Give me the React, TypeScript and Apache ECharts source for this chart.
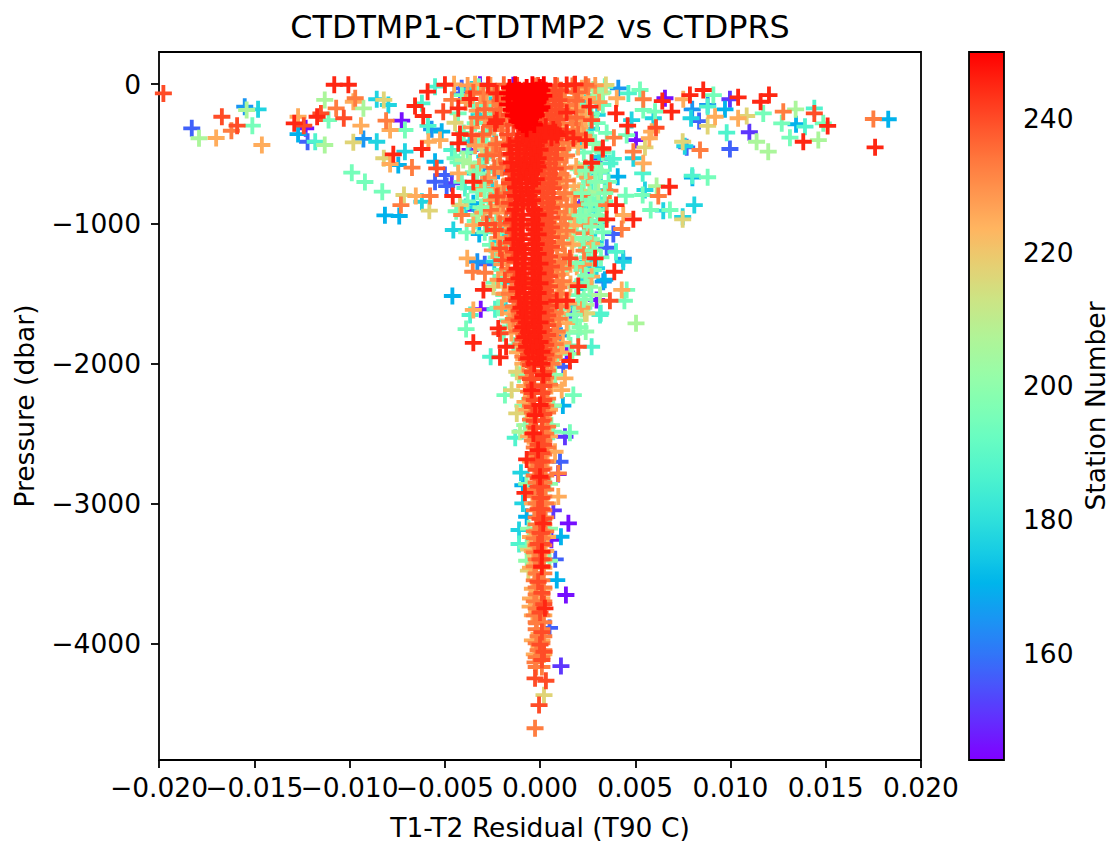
import React, { useEffect, useRef } from "react";
import * as echarts from "echarts";

// Each list: [residual in 0.001 T90 C, pressure dbar], grouped by station number
const s146 = [[-12.3,-317],[-7.26,-262],[-3.67,-472],[-3.11,-1611],[-3.15,-5],[-1.4,-8],[5.04,-401],[6.56,-102],[3.19,-536],[2.97,-1545],[1.49,-3142],[1.36,-3655],[2.6,-1340],[1.4,-1920],[0.95,-2790],[0.6,-3260]];
const s151 = [[-4.63,-710],[9.97,-109],[10.99,-345],[1.31,-2523],[1.1,-4163],[0.7,-3050],[-3.4,-900],[2.1,-850]];
const s157 = [[-18.28,-317],[-12.2,-413],[-4.11,-31],[-4.2,-67],[-5.51,-699],[-4.99,-651],[-4.9,-730],[8.35,-265],[7.7,-453],[9.97,-465],[1.22,-2022],[1.05,-2702],[3.5,-1171],[3.85,-1073],[-2.9,-1290],[0.8,-3400],[0.5,-3890],[1.6,-1650]];
const s165 = [[-15.5,-162],[-9.27,-393],[-5.69,-324],[-2.97,-603],[-3.29,-1271],[-1.78,-973],[7.99,-181],[4.11,-31],[4.37,-1250],[3.32,-1414],[1.1,-1800],[8.8,-150],[-2.2,-620]];
const s170 = [[-12.7,-358],[-8.14,-939],[-7.39,-944],[-7.44,-579],[-4.6,-1516],[-5.16,-341],[-3.5,-853],[-3.19,-1073],[9.71,-181],[13.44,-288],[18.28,-252],[4.08,-663],[3.06,-985],[8.0,-670],[1.1,-3238],[0.88,-3548],[-0.7,-3095],[-0.9,-2870],[1.2,-2300],[3.4,-1400],[-5.51,-556]];
const s177 = [[-14.8,-181],[-8.57,-109],[-7.96,-150],[-8.57,-413],[-7.09,-484],[-6.2,-842],[-4.55,-1044],[-2.71,-672],[-2.19,-591],[-1.89,-1080],[7.93,-245],[7.6,-445],[8.1,-866],[7.49,-950],[6.47,-906],[5.51,-758],[5.95,-245],[4.81,-258],[4.9,-531],[3.2,-634],[2.97,-1318],[4.37,-1271],[-1.0,-2780],[-0.9,-3000],[-1.1,-3190]];
const s187 = [[-11.8,-413],[-3.67,-1652],[-2.36,-1611],[-5.88,-300],[-6.2,-138],[-5.51,-19],[-3.94,-744],[-4.63,-472],[4.64,-67],[8.8,-162],[9.8,-348],[7.99,-656],[13.91,-305],[14.4,-174],[5.39,-639],[3.85,-536],[3.67,-567],[3.19,-1640],[2.71,-770],[3.11,-818],[2.36,-913],[3.99,-1200],[3.15,-1652],[2.71,-1879],[-2.59,-1951],[-1.3,-2530],[-1.1,-3290],[-1.5,-760]];
const s195 = [[-15.1,-298],[-11.1,-258],[-9.88,-634],[-9.19,-701],[-8.28,-770],[-7.09,-329],[-3.85,-1061],[-4.46,-531],[-3.88,-1753],[9.1,-79],[11.72,-210],[12.69,-281],[13.12,-384],[14.87,-281],[8.8,-667],[6.82,-901],[5.81,-901],[5.25,-43],[5.42,-186],[6.04,-198],[5.39,-794],[4.5,-799],[4.55,-365],[2.97,-901],[2.59,-818],[1.93,-1009],[4.55,-1473],[4.43,-1550],[1.75,-2225],[1.57,-2494],[0.7,-2487],[-1.84,-2225],[-0.7,-3310],[3.3,-60],[2.6,-1200]];
const s206 = [[-17.9,-388],[-15.4,-186],[-11.3,-436],[-11.3,-114],[-9.27,-174],[-4.03,-544],[-3.67,-567],[-3.24,-937],[11.37,-413],[11.98,-484],[13.42,-181],[14.61,-401],[6.12,-730],[3.24,-67],[3.06,-770],[1.57,-944],[3.15,-1509],[5.04,-1712],[-1.05,-2487],[1.6,-1020],[2.4,-1580],[-1.5,-1700],[2.2,-620],[2.8,-40]];
const s217 = [[-9.8,-417],[-8.2,-114],[-8.2,-531],[-7.14,-794],[-5.81,-906],[-4.46,-277],[-3.06,-453],[-4.2,-866],[-2.62,-878],[-2.45,-1450],[8.8,-300],[10.85,-229],[7.49,-413],[7.49,-968],[3.46,-7],[5.51,-453],[2.05,-763],[1.66,-1140],[2.36,-1640],[2.45,-1640],[-1.22,-2058],[-1.49,-2189],[-1.22,-2356],[-0.61,-3481],[0.21,-4371],[-0.6,-3330],[1.9,-330]];
const s225 = [[-17.0,-386],[-14.6,-436],[-12.7,-234],[-9.8,-127],[-9.4,-298],[-7.87,-329],[-7.87,-572],[-6.52,-801],[-5.86,-413],[-5.25,-401],[-4.51,-2],[-3.41,-2],[-4.29,-639],[-3.82,-1247],[-3.5,-1009],[-3.5,-1616],[7.52,-109],[9.19,-234],[10.4,-245],[4.03,-102],[5.42,-567],[5.74,-388],[5.86,-341],[4.37,-937],[2.71,-1140],[1.93,-1307],[2.71,-1378],[4.29,-1473],[1.31,-2105],[1.14,-2189],[-0.79,-2273],[0.79,-2630],[0.96,-2951],[0,-3548],[-0.52,-3738]];
const s233 = [[-16.2,-334],[-10.7,-174],[-9.7,-102],[-8.08,-262],[-6.72,-598],[-7.3,-866],[-5.77,-801],[-4.63,-114],[-4.11,-937],[-2.97,-67],[-2.89,-1350],[-3.53,-1343],[-2.45,-496],[-1.93,-853],[8.4,-472],[12.77,-198],[17.5,-250],[5.42,-109],[4.9,-484],[3.88,-384],[6.21,-801],[2.54,-19],[3.67,-763],[1.84,-870],[3.5,-866],[4.29,-1037],[2.31,-1068],[2.31,-1192],[0.96,-2785],[-0.17,-3858],[-0.26,-4137],[-0.26,-4608]];
const s240 = [[-19.77,-67],[-16.7,-234],[-15.9,-298],[-12.4,-298],[-11.5,-210],[-10.3,-245],[-5.42,-603],[-5.08,-198],[-3.59,-365],[-2.8,-1001],[-2.36,-1044],[-2.1,-1175],[-2.0,-1259],[-1.84,-1402],[-2.1,-1783],[-2.27,-806],[6.09,-313],[14.4,-210],[3.29,-467],[2.71,-258],[3.67,-1550],[2.01,-1879],[1.57,-1247],[-0.26,-4251],[0.31,-4268],[-0.05,-4442],[0.21,-4061]];
const s245 = [[-12.9,-281],[-11.7,-234],[-10.8,-5],[-10.06,-5],[-7.7,-503],[-6.56,-157],[-6.13,-229],[-6.2,-465],[-5.9,-55],[-4.99,-5],[-4.58,-801],[-4.29,-174],[-4.2,-358],[-4.29,-424],[-3.67,-107],[-3.5,-699],[-2.97,-1473],[-3.5,-1851],[-2.19,-1748],[-1.78,-1879],[-2.1,-1955],[-2.27,-258],[-2.27,-67],[-2.73,-7],[8.57,-43],[7.87,-79],[10.4,-95],[12.02,-79],[11.58,-127],[15.1,-300],[13.82,-413],[17.59,-453],[6.42,-122],[6.91,-198],[6.79,-735],[4.9,-968],[4.6,-298],[3.99,-210],[3.99,-866],[3.5,-968],[3.9,-1343],[2.62,-162],[2.71,-563],[2.41,-401],[2.89,-1247],[2.01,-1445],[1.4,-205],[1.4,-348],[1.75,-388],[1.84,-2],[1.4,-7],[1.4,-1550],[0.88,-1550],[1.57,-1981],[-0.7,-2685],[-0.79,-2924],[0.17,-3142],[0.26,-3750],[-2.36,-280],[3.3,-458]];

// Each row of the dense core: [pressure dbar, residuals in 0.001 T90 C ...]
const fill177Rows = [[-40,-3.6,2.9],[-130,-2.6,2.4],[-220,-3.2,3.0],[-320,-2.4,2.7],[-410,-3.7,2.2],[-520,-2.9,3.1],[-640,-3.4,2.6],[-760,-2.5,3.4],[-880,-3.9,2.9],[-1000,-2.7,2.3],[-1130,-2.1,2.9],[-1270,-2.4,2.5],[-1420,-1.9,2.2],[-1590,-1.8,2.0]];
const fill195Rows = [[-20,-3.2,2.4,3.4],[-80,-4.1,-2.4,2.9],[-150,-3.5,-2.9,2.2,3.3],[-210,-4.3,-2.6,2.7],[-280,-3.4,-2.2,3.0],[-350,-4.0,-2.8,2.4,3.5],[-420,-3.2,-2.3,2.9],[-490,-3.8,-2.7,2.3,3.3],[-560,-4.3,-3.1,2.7],[-630,-3.5,-2.4,2.2,3.1],[-700,-4.1,-2.9,2.6,3.6],[-770,-3.3,-2.3,2.3,3.0],[-840,-3.8,-2.7,2.7,3.4],[-910,-4.4,-3.0,2.2],[-980,-3.4,-2.3,2.6,3.2],[-1060,-2.9,-2.1,2.4,3.3],[-1150,-2.6,-1.9,2.1,2.9],[-1240,-2.3,2.5,3.2],[-1330,-2.0,2.2,2.8],[-1420,-2.4,2.4],[-1510,-1.9,2.0,2.7],[-1600,-2.2,2.3],[-1690,-1.7,1.9],[-1780,-1.9,2.0],[-1870,-1.4,1.6]];
const core200Rows = [[-240,1.9,2.6],[-430,1.5,2.8],[-610,2.0,2.9],[-790,1.7,2.6],[-950,1.3,2.4],[-1110,1.8,2.7],[-1290,1.4,2.3],[-1450,1.9,2.6],[-1610,1.2,2.2],[-1770,1.5,2.4],[-1930,0.9,1.7],[-2080,0.8,-1.1],[-2300,0.7,-0.9],[-2440,0.6,-0.8],[-2860,0.5,-0.7],[-3180,0.5,-0.6],[-3410,-0.7,0.5]];
const fill228Rows = [[-10,-3.8,-2.6,2.9],[-70,-3.1,-2.2],[-130,-3.9,-2.8,3.1],[-190,-3.3,-2.3],[-250,-2.9,2.2],[-310,-3.6,-2.4],[-370,-3.0,2.3],[-440,-3.4,-2.5],[-510,-2.8],[-590,-3.2,-2.2],[-670,-2.7,2.5],[-750,-3.1,-2.3],[-830,-2.6],[-920,-3.0,-2.2],[-1010,-2.5,2.6],[-1100,-2.2],[-1190,-2.5],[-1290,-2.0,2.3],[-1400,-2.2],[-1500,-1.9],[-1600,-2.0,2.2],[-1700,-1.6]];
const core224Rows = [[-30,0.9,2.2],[-100,1.3,2.5],[-170,0.8,2.0],[-240,1.2,2.4],[-310,0.9,2.1],[-380,1.4,2.3],[-450,1.0,2.0],[-520,1.3],[-590,0.8,1.9],[-660,1.2],[-730,1.0,1.8,-1.9],[-800,1.4],[-870,0.9,1.7,-2.1],[-940,1.3],[-1010,0.8,1.8,-1.8],[-1080,1.2],[-1150,0.9,1.7],[-1220,1.3,-1.9],[-1290,0.8,1.6],[-1360,1.1,-1.7],[-1430,0.9,1.6],[-1500,1.2,-1.8],[-1570,0.7,1.5],[-1640,1.1,-1.6],[-1710,0.8,1.4],[-1780,0.9,-1.5],[-1850,0.6,1.2],[-1920,0.8,1.1,-1.2],[-2000,0.7,-0.9],[-2160,0.6,-0.8],[-2330,0.5,-0.7],[-2520,0.5,-0.6],[-2700,0.4,-0.5],[-3000,0.4,-0.4],[-3240,0.4,-0.5],[-3340,0.3,-0.4],[-3460,0.2,-0.5],[-3610,0.2,-0.4],[-3680,-0.5,0.1],[-3800,-0.4,0.2],[-3980,-0.4,0.1],[-4080,-0.3,0.2]];
const core233Rows = [[-15,-0.3,0.9,1.7],[-60,0.2,1.3,-1.9],[-105,-0.1,1.1,1.8],[-150,0.5,1.5,-2.1],[-195,0.1,1.2,1.9],[-240,0.6,1.6,-1.8],[-285,0.3,1.0,1.7],[-330,0.7,1.4,-2.0],[-375,0.2,1.1,1.8],[-420,0.6,1.5,-1.9],[-465,0.3,1.2],[-510,0.8,1.4,-1.7],[-555,0.1,1.0],[-600,0.5,1.3,-2.0],[-645,0.3,1.1],[-690,0.7,1.4,-1.6],[-735,0.2,1.0],[-780,0.6,1.3,-1.9],[-825,0.3,1.1],[-870,0.7,1.4,-1.7],[-915,0.2,1.0],[-960,0.6,1.3,-1.8],[-1005,0.3,1.1],[-1050,0.7,1.4,-1.6],[-1095,0.2,1.0],[-1140,0.5,1.2,-1.8],[-1185,0.3,0.9],[-1230,0.6,1.3,-1.5],[-1275,0.2,1.0],[-1320,0.5,1.2,-1.7],[-1365,0.3,0.9],[-1410,0.6,1.2,-1.5],[-1455,0.2,1.0],[-1500,0.5,1.1,-1.6],[-1545,0.3,0.9],[-1590,0.6,1.1,-1.4],[-1635,0.2,0.8],[-1680,0.4,1.0,-1.4],[-1725,0.2,0.7],[-1770,0.4,0.9,-1.2],[-1815,0.2,0.7],[-1860,0.4,0.8,-1.0],[-1905,0.1,0.6],[-1950,0.3,0.7,-0.9],[-2000,0.1,0.6,-0.6],[-2050,0.4,-0.5],[-2100,0.3,-0.7],[-2150,0.5,-0.4],[-2200,0.2,-0.6],[-2250,0.4,-0.5],[-2300,0.3,-0.5],[-2350,0.4,-0.4],[-2400,0.2,-0.5],[-2450,0.4,-0.3],[-2500,0.3,-0.4],[-2550,0.2,-0.4],[-2600,0.4,-0.3],[-2650,0.2,-0.3],[-2700,0.3,-0.4],[-2750,0.2,-0.2],[-2800,0.3,-0.3],[-2850,0.2,-0.2],[-2900,0.3,-0.3],[-2950,0.2,-0.3],[-3000,0.3,-0.2],[-3050,0.2,-0.3],[-3100,0.3,-0.2],[-3150,0.2,-0.2],[-3200,0.3,-0.3],[-3250,0.1,-0.3],[-3300,0.2,-0.2],[-3350,0.1,-0.3],[-3400,0.2,-0.2],[-3450,0.1,-0.3],[-3500,0.2,-0.2],[-3550,0.1,-0.3],[-3600,0.2,-0.2],[-3650,0.1,-0.2],[-3700,0.2,-0.3],[-3750,0.1,-0.2],[-3800,0.1,-0.3],[-3850,0.2,-0.2],[-3900,0.1,-0.2],[-3950,0.2,-0.1],[-4000,0.1,-0.2],[-4050,0.2,-0.1],[-4100,0.1,-0.2],[-4170,-0.2,0.1]];
const fill236Rows = [[-5,-2.7,-1.9,1.8,2.4],[-60,-3.5,-2.4,2.0],[-120,-2.1,1.9],[-180,-2.9,-2.1],[-240,-3.3,-2.4,1.9],[-300,-2.6,-2.0],[-360,-3.0,2.0],[-430,-2.3],[-510,-2.8,-2.1],[-600,-2.4,2.4],[-700,-2.9],[-800,-2.2,2.2],[-900,-2.6],[-1000,-2.1]];
const mintTopRows = [[-620,2.4,3.2],[-640,-3.3],[-700,2.9],[-760,-2.9],[-780,2.2,3.4],[-860,2.6],[-880,-3.1],[-940,2.1,3.1],[-1020,2.7],[-1100,2.3],[-1190,2.8],[-1280,1.9],[-1370,2.4],[-1450,2.0],[-1540,2.3],[-1650,1.8],[-1740,2.1]];
const core240Rows = [[-10,-1.2,-0.1,0.8],[-45,-0.8,0.3,1.1],[-80,-1.5,-0.3,0.7],[-115,-0.9,0.2,1.0],[-150,-1.3,-0.2,0.8],[-185,-0.7,0.4,1.1],[-220,-1.6,-0.3,0.6],[-255,-1.0,0.1,0.9],[-290,-1.4,-0.1,0.7],[-325,-0.8,0.3,1.0],[-360,-1.7,-0.4,0.6],[-395,-1.1,0.2,0.8],[-430,-1.5,-0.2,0.6],[-465,-0.9,0.3,0.9],[-500,-1.6,-0.3,0.5],[-535,-1.2,0.1,0.8],[-570,-1.7,-0.2,0.5],[-605,-1.0,0.2,0.8],[-640,-1.5,-0.3,0.5],[-675,-1.2,0.1,0.7],[-710,-1.6,-0.2,0.5],[-745,-1.0,0.2,0.7],[-780,-1.5,-0.2,0.4],[-815,-1.2,0.1,0.7],[-850,-1.6,-0.3,0.4],[-885,-1.0,0.1,0.6],[-920,-1.4,-0.2,0.5],[-955,-1.2,0.1,0.6],[-990,-1.5,-0.3,0.4],[-1025,-1.0,0.2,0.6],[-1060,-1.4,-0.2,0.4],[-1095,-1.1,0.1,0.6],[-1130,-1.5,-0.2,0.4],[-1165,-1.0,0.2,0.6],[-1200,-1.4,-0.2,0.3],[-1235,-1.1,0.1,0.5],[-1270,-1.3,-0.2,0.4],[-1305,-0.9,0.2,0.6],[-1340,-1.3,-0.2,0.3],[-1375,-1.0,0.1,0.5],[-1410,-1.3,-0.3,0.3],[-1445,-0.9,0.1,0.5],[-1480,-1.2,-0.2,0.3],[-1515,-0.9,0.1,0.5],[-1550,-1.2,-0.2,0.3],[-1585,-0.8,0.1,0.4],[-1620,-1.1,-0.2,0.3],[-1655,-0.9,0.1,0.4],[-1690,-1.1,-0.2,0.3],[-1725,-0.8,0.1,0.4],[-1760,-1.0,-0.2,0.2],[-1795,-0.7,0.1,0.4],[-1830,-0.9,-0.2,0.2],[-1865,-0.7,0.1,0.3],[-1900,-0.8,-0.2,0.2],[-1935,-0.6,0.1,0.3],[-1970,-0.7,-0.1,0.2],[-2010,-0.5,0.1],[-2060,-0.4,0.2],[-2110,-0.5,0.1],[-2160,-0.3,0.2],[-2210,-0.4,0.1],[-2260,-0.3,0.2],[-2310,-0.4,0.1],[-2360,-0.2,0.2],[-2410,-0.3,0.1],[-2460,-0.2,0.1],[-2520,-0.2,0.1],[-2580,-0.1,0.2],[-2640,-0.2,0.1],[-2700,-0.1,0.1],[-2760,-0.2,0.1],[-2820,-0.1,0.1],[-2880,-0.1,0.1],[-2960,0,0.1],[-3040,-0.1,0.1],[-3110,0,0.2],[-3210,0,0.1],[-3290,-0.1,0.1],[-3400,0,0.1],[-3450,0.1],[-3560,-0.1],[-3640,0.1],[-3720,0.2],[-3780,0],[-3920,0.1],[-4010,0],[-4120,0.1]];
const core246Rows = [[-305,-1.0,-0.3,0.3],[-325,-0.7,0,0.7],[-345,-0.8,0.1,0.8],[-365,-0.5,0.3,0.9],[-385,-0.9,0,0.6],[-410,-1.2,-0.5,-0.1],[-440,-1.6,-0.7,-0.2],[-470,-1.1,-0.4,0],[-500,-1.5,-0.8,-0.3],[-530,-1.2,-0.5,-0.1],[-560,-1.5,-0.7,-0.2],[-590,-1.0,-0.4,-0.1],[-620,-1.4,-0.8,-0.3],[-650,-1.1,-0.5],[-680,-1.4,-0.7,-0.2],[-710,-1.0,-0.4],[-740,-1.3,-0.7],[-770,-1.0,-0.4],[-800,-1.3,-0.6],[-830,-0.9,-0.4],[-860,-1.2,-0.6],[-900,-1.3,-0.3],[-935,-0.9,-0.1],[-970,-1.4,-0.4],[-1005,-1.0,-0.2],[-1040,-1.3,-0.3],[-1075,-0.9,-0.1],[-1110,-1.4,-0.4],[-1145,-1.0,-0.2],[-1180,-1.2,-0.3],[-1215,-0.8,-0.1],[-1250,-1.3,-0.4],[-1285,-0.9,0],[-1320,-1.2,-0.3],[-1355,-0.8,-0.1],[-1390,-1.1,-0.4],[-1425,-0.9,0],[-1460,-1.2,-0.3],[-1495,-0.8,-0.1],[-1530,-1.1,-0.4],[-1565,-0.7,0],[-1600,-1.0,-0.3],[-1635,-0.8,-0.1],[-1670,-0.9,-0.4],[-1705,-0.7,0],[-1740,-0.9,-0.3],[-1775,-0.6,-0.1],[-1810,-0.8,-0.3],[-1845,-0.5,0],[-1880,-0.7,-0.2],[-1915,-0.4,0.1],[-1960,-0.6,-0.1],[-2000,-0.3,0.1],[-2082,0.17],[-2189,-0.44],[-2296,0],[-2368,-0.26],[-2499,-0.35],[-2618,-0.1],[-2809,0],[-3345,0.1],[-3453,0.09]];
const core250Rows = [[-5,-1.3,-0.4,0.2],[-25,-1.6,-0.7,0],[-45,-1.1,-0.2,0.1],[-65,-1.7,-0.8,-0.1],[-85,-1.2,-0.4,0.2],[-105,-1.6,-0.6,0],[-125,-1.0,-0.2,-0.1],[-145,-1.7,-0.9,-0.3],[-165,-1.3,-0.5,0.1],[-185,-1.5,-0.7,0],[-205,-1.1,-0.3],[-225,-1.4,-0.8,-0.2],[-245,-1.1,-0.5],[-265,-1.2,-0.6],[-290,-0.9,-0.3],[-320,-0.7]];

const xTicks = [-0.02, -0.015, -0.01, -0.005, 0, 0.005, 0.01, 0.015, 0.02];
const firstXTick = [xTicks[0]];
const yTicks = [-4000, -3000, -2000, -1000, 0];
const barTicks = [160, 180, 200, 220, 240];
const titleText = "CTDTMP1-CTDTMP2 vs CTDPRS";
const xName = "T1-T2 Residual (T90 C)";
const yName = "Pressure (dbar)";
const barName = "Station Number";
const rainbow = ["#8000ff","#6629fe","#4c50fc","#3176f8","#1996f3","#00b5eb","#1acfe3","#34e4d9","#4df3ce","#66fcc3","#80ffb4","#9afca6","#b2f396","#cce484","#e6cf72","#ffb560","#ff964f","#ff763c","#ff5029","#ff2914","#ff0000"];

const rows = (t: number[][]) => t.flatMap(([p, ...xs]) => xs.map((x) => [x, p]));
const groups: [number, number[][]][] = [
  [146, s146], [151, s151], [157, s157], [165, s165], [170, s170],
  [177, s177], [177, rows(fill177Rows)], [187, s187], [195, s195], [195, rows(fill195Rows)],
  [200, rows(core200Rows)],
  [206, s206], [217, s217], [225, s225],
  [225, rows(core224Rows)], [228, rows(fill228Rows)],
  [233, s233],
  [233, rows(core233Rows)], [236, rows(fill236Rows)],
  [198, rows(mintTopRows)],
  [240, s240],
  [240, rows(core240Rows)],
  [245, s245],
  [246, rows(core246Rows)],
  [250, rows(core250Rows)],
];
const points = groups.flatMap(([st, list]) => list.map(([x, p]) => [x / 1000, p, st]));

const plus = "path://M6.2 0h3.6v6.2h6.2v3.6h-6.2v6.2h-3.6v-6.2h-6.2v-3.6h6.2z";
const minus = (s: string) => s.replace("-", "\u2212");
const font = "DejaVu Sans";
const labelSize = 26.5;
const plotRect = { left: 159, top: 52, width: 762, height: 708, outerBoundsMode: "none" };

export default function App() {
  const ref = useRef<HTMLDivElement>(null);
  useEffect(() => {
    document.body.style.margin = "0";
    const chart = echarts.init(ref.current!, undefined, { renderer: "svg" });
    const tickStyle = { show: true, length: 8, lineStyle: { color: "#000", width: 1.8 } };
    const xLabel = { interval: 0, fontSize: labelSize, color: "#000", margin: 14, fontFamily: font, formatter: (v: number) => minus(v.toFixed(3)) };
    chart.setOption({
      animation: false,
      backgroundColor: "#fff",
      textStyle: { fontFamily: font, color: "#000" },
      title: {
        text: titleText, left: 535, top: 5, textAlign: "center",
        textStyle: { fontFamily: font, fontSize: 31.8, fontWeight: "normal", color: "#000" },
      },
      grid: [
        { ...plotRect, show: true, borderColor: "#000", borderWidth: 1.8, backgroundColor: "#fff" },
        { left: 969, top: 52, width: 35, height: 708, show: false, outerBoundsMode: "none" },
        { ...plotRect, show: false },
      ],
      xAxis: [
        {
          type: "value", gridIndex: 0, min: xTicks[0], max: xTicks[8], interval: 0.005,
          position: "bottom", splitLine: { show: false },
          axisLine: { show: false, onZero: false }, axisTick: tickStyle,
          axisLabel: { ...xLabel, showMinLabel: false, showMaxLabel: true },
          name: xName, nameLocation: "middle", nameGap: 54, nameTextStyle: { fontSize: labelSize, color: "#000", fontFamily: font },
        },
        { type: "value", gridIndex: 1, min: 0, max: 1, show: false },
        {
          type: "value", gridIndex: 2, min: xTicks[0], max: xTicks[8], position: "bottom", splitLine: { show: false },
          axisLine: { show: false, onZero: false },
          axisTick: { ...tickStyle, customValues: firstXTick },
          axisLabel: { ...xLabel, customValues: firstXTick },
        },
      ],
      yAxis: [
        {
          type: "value", gridIndex: 0, min: -4835, max: 229,
          splitLine: { show: false },
          axisLine: { show: false, onZero: false },
          axisTick: { ...tickStyle, customValues: yTicks },
          axisLabel: { fontSize: labelSize, color: "#000", margin: 18, fontFamily: font, customValues: yTicks, formatter: (v: number) => minus(String(v)) },
          name: yName, nameLocation: "middle", nameGap: 121, nameRotate: 90, nameTextStyle: { fontSize: labelSize, color: "#000", fontFamily: font },
        },
        {
          type: "value", gridIndex: 1, min: 144, max: 250, position: "right",
          splitLine: { show: false },
          axisLine: { show: false },
          axisTick: { ...tickStyle, customValues: barTicks },
          axisLabel: { fontSize: labelSize, color: "#000", margin: 19, fontFamily: font, customValues: barTicks },
          name: barName, nameLocation: "middle", nameGap: 78, nameRotate: 90, nameTextStyle: { fontSize: labelSize, color: "#000", fontFamily: font },
        },
        { type: "value", gridIndex: 2, min: -4835, max: 229, show: false },
      ],
      visualMap: {
        type: "continuous", seriesIndex: 0, dimension: 2, min: 144, max: 250,
        left: 969, top: 52, itemWidth: 35, itemHeight: 708, padding: 0,
        calculable: false, hoverLink: false, text: ["", ""], inRange: { color: rainbow },
      },
      graphic: [{
        type: "rect", z: 100, silent: true,
        shape: { x: 969, y: 52, width: 35, height: 708 },
        style: { fill: "none", stroke: "#000", lineWidth: 1.8 },
      }],
      series: [
        { type: "scatter", xAxisIndex: 0, yAxisIndex: 0, data: points, symbol: plus, symbolSize: 17, itemStyle: { opacity: 1 }, silent: true, large: false, progressive: 0, clip: true },
        { type: "scatter", xAxisIndex: 1, yAxisIndex: 1, data: [], silent: true },
        { type: "scatter", xAxisIndex: 2, yAxisIndex: 2, data: [], silent: true },
      ],
    });
    return () => chart.dispose();
  }, []);
  return <div ref={ref} style={{ position: "absolute", left: 0, top: 0, width: 1111, height: 846 }} />;
}
